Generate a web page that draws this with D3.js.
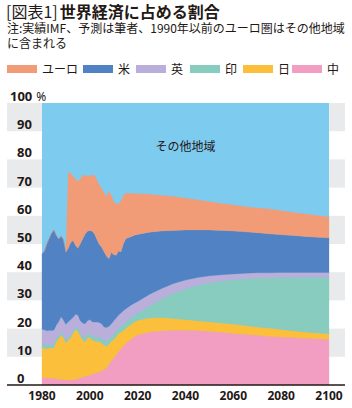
<!DOCTYPE html>
<html>
<head>
<meta charset="utf-8">
<script src="https://cdn.jsdelivr.net/npm/d3@7"></script>
<style>
  body { margin: 0; background: #fff; }
  svg { display: block; font-family: "Noto Sans CJK JP", "Noto Sans", sans-serif; }
</style>
</head>
<body>
<svg id="chart" width="352" height="408"></svg>
<script>
// shares of world GDP, % (1980-2020 actual, then forecast every 5 years)
const years = [1980,1981,1982,1983,1984,1985,1986,1987,1988,1989,
  1990,1991,1992,1993,1994,1995,1996,1997,1998,1999,
  2000,2001,2002,2003,2004,2005,2006,2007,2008,2009,
  2010,2011,2012,2013,2014,2015,2016,2017,2018,2019,2020,
  2025,2030,2035,2040,2045,2050,2055,2060,2065,2070,2075,2080,2085,2090,2095,2100];

const china = [2.8,2.6,2.5,2.5,2.4,2.4,2.1,2.0,2.0,1.9,
  1.8,1.8,1.8,1.9,1.9,2.2,2.5,2.8,3.0,3.2,
  3.5,3.9,4.1,4.3,4.6,5.0,5.5,6.2,7.3,8.6,
  9.6,10.6,11.8,12.8,13.7,14.6,15.3,16.0,16.8,17.3,17.7,
  18.8,19.2,19.4,19.4,19.3,19.0,18.7,18.3,17.9,17.6,17.2,17.0,16.8,16.6,16.4,16.2];

const japan = [10.2,10.7,10.3,10.7,10.7,10.8,13.4,14.5,15.7,14.9,
  13.2,14.2,15.0,16.6,17.6,17.1,14.9,13.2,12.4,13.4,
  13.5,12.1,11.5,11.2,10.7,9.8,8.7,7.6,7.2,7.0,
  6.6,6.6,6.5,6.0,5.6,5.4,5.5,5.4,5.2,5.3,5.3,
  5.0,4.7,4.2,3.8,3.5,3.4,3.3,3.3,3.2,3.0,3.0,2.7,2.4,2.2,2.0,2.0];

const india = [1.2,1.2,1.2,1.2,1.1,1.2,1.1,1.0,1.0,1.0,
  0.9,0.8,0.8,0.8,0.9,1.1,1.1,1.2,1.2,1.3,
  1.3,1.4,1.4,1.5,1.6,1.7,1.8,1.6,1.7,1.6,
  1.8,1.9,2.0,2.1,2.2,2.3,2.2,2.3,2.4,2.4,2.5,
  4.2,6.6,8.9,10.8,12.6,13.9,14.8,15.7,16.5,17.3,17.8,18.4,19.0,19.4,19.8,20.0];

const uk = [5.6,5.1,5.2,5.0,5.1,5.1,4.7,5.0,5.6,5.2,
  5.6,5.6,5.6,4.7,4.7,4.4,4.3,4.8,5.1,4.9,
  4.9,5.0,5.3,5.3,5.3,5.1,4.6,5.0,4.6,4.5,
  4.8,4.7,4.5,4.6,4.8,4.7,4.6,4.5,4.3,4.2,4.1,
  4.2,3.7,3.5,3.2,2.7,2.4,2.3,2.1,2.0,1.9,1.8,1.8,1.7,1.7,1.7,1.7];

const us = [26.7,27.9,30.8,32.6,34.5,35.5,31.7,29.3,28.5,28.5,
  25.7,26.1,27.3,27.2,24.4,23.7,27.2,29.8,31.8,31.7,
  31.6,32.1,31.2,29.2,27.6,27.2,26.6,25.3,24.0,25.3,
  23.4,22.2,22.7,21.7,23.7,24.8,24.6,24.3,24.1,24.0,23.8,
  22.0,20.4,18.8,17.8,16.9,16.3,15.7,15.2,14.7,14.2,13.8,13.4,13.1,12.8,12.5,12.3];

// euro area counted in "other" up to 1990
const euro = [0,0,0,0,0,0,0,0,0,0,
  0,27.1,24.5,22.8,23.5,23.7,23.0,22.5,20.9,19.5,
  19.2,20.0,20.8,21.0,21.0,20.7,20.8,21.3,23.7,20.3,
  18.6,18.3,16.7,18.0,17.0,16.2,15.8,15.4,15.1,14.6,14.4,
  13.4,12.6,12.0,11.2,10.6,10.0,9.6,9.2,8.9,8.8,8.8,8.5,8.2,7.9,7.7,7.4];

const stackKeys = ["中", "日", "印", "英", "米", "ユーロ"];   // bottom -> top
const legendKeys = ["ユーロ", "米", "英", "印", "日", "中"];
const otherLabel = "その他地域";
const yTicks = [0, 10, 20, 30, 40, 50, 60, 70, 80, 90];
const xTicks = [1980, 2000, 2020, 2040, 2060, 2080, 2100];
const bandStarts = [10, 30, 50, 70, 90];

const colors = {
  "ユーロ": "#f29b77",
  "米": "#5082c4",
  "英": "#b9afda",
  "印": "#87ccbf",
  "日": "#fbbf3b",
  "中": "#f29dc2"
};
const otherColor = "#7ecbf0";

const rows = years.map((yr, i) => ({
  year: yr, "中": china[i], "日": japan[i], "印": india[i],
  "英": uk[i], "米": us[i], "ユーロ": euro[i]
}));

const svg = d3.select("#chart");
const x = d3.scaleLinear().domain([1980, 2100]).range([42, 329]);
const y = d3.scaleLinear().domain([0, 100]).range([385, 103]);
const ink = "#231815";

// title + note
const title = svg.append("text").attr("x", 6).attr("y", 18)
  .attr("font-size", 16).attr("fill", ink);
title.append("tspan").text("[図表1]");
title.append("tspan").attr("font-weight", "bold").attr("dx", 2).text("世界経済に占める割合");

svg.append("text").attr("x", 7).attr("y", 33).attr("font-size", 12).attr("fill", ink)
  .text("注:実績IMF、予測は筆者、1990年以前のユーロ圏はその他地域");
svg.append("text").attr("x", 7).attr("y", 48).attr("font-size", 12).attr("fill", ink)
  .text("に含まれる");

// legend
const legendX = [7, 83, 136, 190, 243, 292];
const lg = svg.append("g");
legendKeys.forEach((k, i) => {
  lg.append("rect").attr("x", legendX[i]).attr("y", 65)
    .attr("width", 30).attr("height", 8).attr("fill", colors[k]);
  lg.append("text").attr("x", legendX[i] + 35).attr("y", 74)
    .attr("font-size", 12).attr("fill", ink).text(k);
});

// alternating bands
svg.append("g").selectAll("rect").data(bandStarts).join("rect")
  .attr("x", 7).attr("width", 338)
  .attr("y", d => y(d + 10)).attr("height", d => y(d) - y(d + 10))
  .attr("fill", "#e8eaec");

// plot background = other regions
svg.append("rect").attr("x", x(1980)).attr("y", y(100))
  .attr("width", x(2100) - x(1980)).attr("height", y(0) - y(100))
  .attr("fill", otherColor);

const stack = d3.stack().keys(stackKeys);
const area = d3.area()
  .x(d => x(d.data.year))
  .y0(d => y(d[0]))
  .y1(d => y(d[1]));

svg.append("g").selectAll("path").data(stack(rows)).join("path")
  .attr("d", area)
  .attr("fill", d => colors[d.key])
  .attr("stroke", d => colors[d.key])
  .attr("stroke-width", 0.3);

svg.append("text").attr("x", x(2040)).attr("y", y(83))
  .attr("text-anchor", "middle").attr("font-size", 12).attr("fill", ink)
  .text(otherLabel);

// axes
svg.append("line").attr("x1", 7).attr("x2", 345)
  .attr("y1", y(0)).attr("y2", y(0))
  .attr("stroke", ink).attr("stroke-width", 1.5);

svg.append("g").selectAll("text").data(yTicks).join("text")
  .attr("x", 17).attr("y", d => y(d) - 2)
  .attr("font-family", "'Noto Sans', sans-serif")
  .attr("font-weight", "bold").attr("font-size", 13).attr("fill", ink)
  .text(d => d);

const topLabel = svg.append("text").attr("x", 10).attr("y", y(100) - 2)
  .attr("font-family", "'Noto Sans', sans-serif").attr("fill", ink);
topLabel.append("tspan").attr("font-weight", "bold").attr("font-size", 13).text("100");
topLabel.append("tspan").attr("font-size", 12).attr("dx", 4).text("%");

svg.append("g").selectAll("text").data(xTicks).join("text")
  .attr("x", d => x(d)).attr("y", 400)
  .attr("text-anchor", "middle")
  .attr("font-family", "'Noto Sans', sans-serif")
  .attr("font-weight", "bold").attr("font-size", 12).attr("fill", ink)
  .text(d => d);
</script>
</body>
</html>
